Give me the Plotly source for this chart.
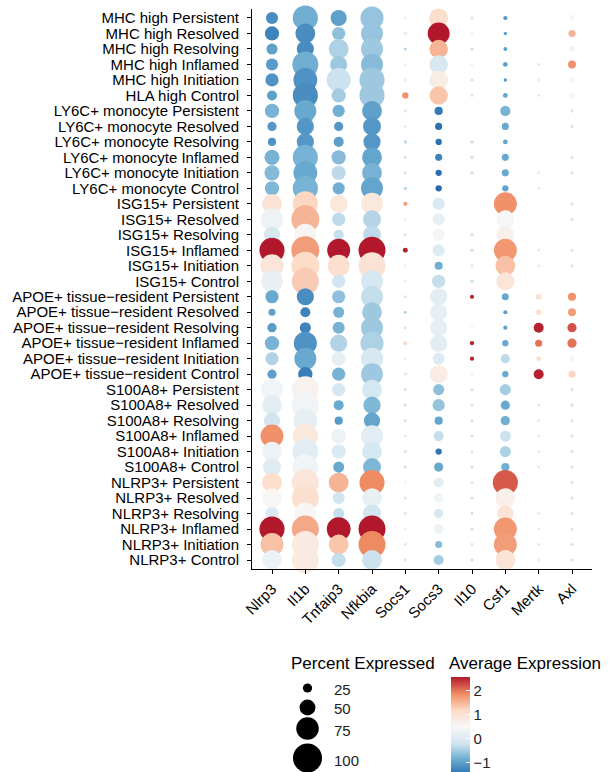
import plotly.graph_objects as go

# ---------------- data ----------------
groups = [
    "MHC high Persistent", "MHC high Resolved", "MHC high Resolving", "MHC high Inflamed",
    "MHC high Initiation", "HLA high Control",
    "LY6C+ monocyte Persistent", "LY6C+ monocyte Resolved", "LY6C+ monocyte Resolving",
    "LY6C+ monocyte Inflamed", "LY6C+ monocyte Initiation", "LY6C+ monocyte Control",
    "ISG15+ Persistent", "ISG15+ Resolved", "ISG15+ Resolving", "ISG15+ Inflamed",
    "ISG15+ Initiation", "ISG15+ Control",
    "APOE+ tissue\u2212resident Persistent", "APOE+ tissue\u2212resident Resolved",
    "APOE+ tissue\u2212resident Resolving", "APOE+ tissue\u2212resident Inflamed",
    "APOE+ tissue\u2212resident Initiation", "APOE+ tissue\u2212resident Control",
    "S100A8+ Persistent", "S100A8+ Resolved", "S100A8+ Resolving", "S100A8+ Inflamed",
    "S100A8+ Initiation", "S100A8+ Control",
    "NLRP3+ Persistent", "NLRP3+ Resolved", "NLRP3+ Resolving", "NLRP3+ Inflamed",
    "NLRP3+ Initiation", "NLRP3+ Control",
]
genes = ["Nlrp3", "Il1b", "Tnfaip3", "Nfkbia", "Socs1", "Socs3", "Il10", "Csf1", "Mertk", "Axl"]

# percent expressed (rows top -> bottom)
nlrp3_pct = [36, 44, 32, 36, 40, 28, 44, 25, 21, 47, 47, 44, 65, 73, 51, 85, 77, 73,
             40, 17, 25, 44, 40, 25, 73, 65, 51, 77, 65, 58, 65, 65, 40, 85, 77, 65]
il1b_pct = [85, 65, 55, 88, 80, 85, 73, 55, 55, 85, 80, 85, 85, 96, 73, 96, 96, 92,
            55, 28, 32, 77, 73, 44, 92, 92, 80, 85, 88, 88, 92, 92, 73, 92, 92, 92]
tnfaip3_pct = [51, 40, 65, 55, 80, 44, 36, 25, 28, 44, 44, 36, 58, 40, 28, 77, 73, 40,
               40, 32, 36, 55, 44, 40, 40, 28, 21, 47, 44, 32, 65, 36, 32, 80, 65, 44]
nfkbia_pct = [77, 73, 73, 73, 85, 85, 65, 58, 55, 65, 65, 73, 73, 58, 58, 92, 92, 73,
              73, 65, 73, 77, 73, 73, 65, 55, 51, 73, 65, 58, 85, 65, 58, 92, 92, 65]
socs1_pct = [2, 6, 2, 2, 3, 14, 2, 1, 2, 2, 2, 2, 6, 2, 2, 9, 1, 1,
             2, 2, 2, 6, 1, 1, 2, 2, 2, 1, 2, 2, 1, 2, 2, 1, 1, 1]
socs3_pct = [62, 73, 60, 60, 62, 60, 21, 17, 14, 17, 14, 14, 36, 36, 36, 36, 21, 40,
             55, 55, 55, 55, 36, 58, 32, 36, 21, 28, 14, 25, 28, 28, 25, 28, 17, 28]
il10_pct = [1, 1, 2, 1, 2, 1, 0, 0, 2, 2, 2, 0, 0, 0, 2, 2, 1, 2,
            6, 0, 1, 6, 6, 1, 1, 1, 1, 1, 1, 1, 1, 1, 1, 1, 1, 1]
csf1_pct = [6, 3, 5, 8, 3, 8, 29, 17, 8, 17, 17, 14, 77, 58, 58, 77, 65, 58,
            17, 6, 6, 14, 25, 14, 32, 25, 25, 32, 32, 21, 85, 65, 51, 77, 77, 65]
mertk_pct = [0, 0, 0, 1, 1, 1, 0, 0, 0, 0, 1, 1, 0, 0, 0, 1, 1, 0,
             12, 10, 28, 17, 9, 28, 0, 1, 1, 1, 1, 1, 0, 0, 1, 1, 1, 1]
axl_pct = [13, 17, 12, 20, 10, 12, 2, 2, 0, 2, 2, 0, 2, 2, 0, 2, 2, 0,
           21, 20, 25, 25, 10, 17, 2, 2, 2, 2, 2, 2, 2, 2, 2, 2, 2, 2]

# average expression (scaled)
nlrp3_avg = [-1.2, -1.3, -1.0, -1.05, -1.15, -1.0, -0.8, -1.1, -1.15, -0.8, -0.72, -0.75,
             0.95, 0.3, -0.1, 2.55, 0.92, 0.2, -0.9, -1.0, -1.05, -0.8, -0.42, -1.0,
             0.35, 0.1, -0.2, 1.8, 0.28, 0.02, 1.1, 0.5, -0.05, 2.55, 1.4, 0.28]
il1b_avg = [-0.85, -1.2, -1.2, -0.85, -1.15, -1.2, -0.9, -1.1, -1.1, -0.8, -0.9, -0.8,
            1.2, 1.5, 0.55, 1.7, 1.15, 1.3, -1.2, -1.3, -1.3, -1.15, -0.9, -1.35,
            0.6, 0.35, 0.15, 0.85, 0.1, 0.35, 0.92, 1.05, 0.5, 1.6, 0.78, 0.78]
tnfaip3_avg = [-1.0, -0.65, -0.45, -0.55, -0.25, -0.5, -0.85, -1.1, -1.0, -0.7, -0.35, -0.85,
               0.85, -0.35, -0.3, 2.55, 1.05, -0.2, -0.65, -0.8, -0.8, -0.42, 0.15, -0.8,
               -0.15, -0.9, -1.05, 0.3, -0.05, -0.9, 1.5, -0.2, -0.3, 2.55, 1.35, -0.3]
nfkbia_avg = [-0.6, -0.6, -0.55, -0.7, -0.55, -0.55, -1.0, -1.1, -1.1, -0.95, -0.8, -0.95,
              0.85, -0.4, -0.35, 2.55, 1.0, -0.15, -0.3, -0.55, -0.55, -0.45, -0.1, -0.55,
              -0.15, -0.75, -0.95, 0.1, -0.15, -0.75, 1.85, 0.2, -0.2, 2.55, 1.85, -0.25]
socs1_avg = [0.3, 0.2, -0.4, 0.3, 0.2, 1.8, -0.1, 0.1, -0.4, -0.1, -0.1, -0.4,
             1.7, 0.2, -0.1, 2.5, 0.2, 0.2, -0.1, -0.4, -0.1, 1.1, 0.2, -0.1,
             -0.2, -0.2, -0.2, -0.1, -0.2, -0.2, 0.3, -0.1, -0.1, 0.3, -0.1, -0.1]
socs3_avg = [1.1, 2.55, 1.5, -0.1, 0.75, 1.35, -1.4, -1.5, -1.5, -1.3, -1.5, -1.55,
             -0.05, 0.15, 0.4, 0.0, -0.85, -0.3, 0.1, 0.15, 0.15, 0.1, 0.0, 0.75,
             -0.65, -0.6, -0.95, -0.3, -1.45, -0.9, 0.1, 0.35, -0.1, 0.3, -0.7, -0.5]
il10_avg = [-0.2, 0.3, -0.3, 0.3, -0.2, -0.2, -0.2, -0.2, -0.3, -0.3, -0.3, -0.2,
            -0.2, -0.2, -0.3, -0.3, -0.1, -0.3, 2.5, -0.2, 0.3, 2.5, 2.5, 0.2,
            -0.3, -0.3, -0.3, -0.3, -0.2, -0.3, -0.2, -0.3, -0.3, -0.3, -0.1, -0.3]
csf1_avg = [-1.1, -1.0, -1.0, -1.0, -1.1, -0.95, -0.8, -0.9, -0.95, -0.9, -0.9, -0.95,
            1.8, 0.45, 0.65, 1.75, 1.4, 0.92, -0.9, -1.0, -1.0, -0.9, -0.35, -0.9,
            -0.5, -0.9, -0.85, -0.25, -0.45, -0.85, 2.15, 0.65, 0.95, 1.75, 1.7, 0.95]
mertk_avg = [0.0, 0.0, 0.0, 0.0, 0.0, 0.0, 0.0, 0.0, 0.0, 0.0, 0.0, 0.0,
             0.0, 0.0, 0.0, 0.0, 0.0, 0.0, 1.05, 1.15, 2.5, 2.0, 1.05, 2.5,
             0.0, 0.0, 0.0, 0.0, 0.0, 0.0, 0.0, 0.0, 0.0, 0.0, 0.0, 0.0]
axl_avg = [0.45, 1.5, 0.35, 1.8, 0.45, 0.45, -0.2, -0.2, -0.2, -0.2, -0.2, -0.2,
           -0.2, -0.2, -0.2, -0.2, -0.2, -0.2, 1.8, 1.7, 2.2, 2.0, 0.5, 1.2,
           -0.2, -0.2, -0.2, -0.2, -0.2, -0.2, -0.2, -0.2, -0.2, -0.2, -0.2, -0.2]

legend_pct = [25, 50, 75, 100]
color_ticks = [-1, 0, 1, 2]

pct_by_gene = [nlrp3_pct, il1b_pct, tnfaip3_pct, nfkbia_pct, socs1_pct,
               socs3_pct, il10_pct, csf1_pct, mertk_pct, axl_pct]
avg_by_gene = [nlrp3_avg, il1b_avg, tnfaip3_avg, nfkbia_avg, socs1_avg,
               socs3_avg, il10_avg, csf1_avg, mertk_avg, axl_avg]

# ---------------- styling ----------------
W, H = 612, 772
FONT = "Liberation Sans, Arial, Helvetica, sans-serif"
RDBU = [[0.0, "#2166AC"], [1/6, "#67A9CF"], [2/6, "#D1E5F0"], [3/6, "#F7F7F7"],
        [4/6, "#FDDBC7"], [5/6, "#EF8A62"], [1.0, "#B2182B"]]
CMIN, CMAX = -1.6, 2.55


def dot_size(p):
    return 0 if p <= 0 else 2.6 + 0.265 * p


xs, ys, ss, cs = [], [], [], []
for g, pl, al in zip(genes, pct_by_gene, avg_by_gene):
    for grp, p, a in zip(groups, pl, al):
        xs.append(g)
        ys.append(grp)
        ss.append(dot_size(p))
        cs.append(a)

# plot area in pixels (from top-left)
PL, PR, PT, PB = 252, 592, 8.7, 569.3

fig = go.Figure()

# size legend (drawn in a pixel-mapped overlay axis)
leg_y = [688, 707.5, 728.5, 758]
fig.add_trace(go.Scatter(
    x=[307.5] * len(legend_pct), y=leg_y, mode="markers",
    marker=dict(size=[dot_size(p) for p in legend_pct], color="#000000",
                opacity=1, line=dict(width=0)),
    xaxis="x2", yaxis="y2", showlegend=False, cliponaxis=False, hoverinfo="skip",
))

fig.add_trace(go.Scatter(
    x=xs, y=ys, mode="markers",
    marker=dict(size=ss, sizemode="diameter", color=cs, colorscale=RDBU,
                cmin=CMIN, cmax=CMAX, line=dict(width=0), opacity=1,
                colorbar=dict(
                    x=451 / W, xanchor="left", xref="paper",
                    y=(H - 677) / H, yanchor="top", yref="paper",
                    lenmode="pixels", len=100, thickness=19, thicknessmode="pixels",
                    tickvals=color_ticks, ticktext=["\u22121", "0", "1", "2"],
                    ticks="inside", tickcolor="white", ticklen=4, tickwidth=1,
                    outlinewidth=0, xpad=0, ypad=0,
                    tickfont=dict(family=FONT, size=15, color="#222"),
                )),
    showlegend=False, cliponaxis=False, hoverinfo="x+y",
))

annotations = []
for p, yy in zip(legend_pct, [689, 708.5, 730, 760]):
    annotations.append(dict(x=332, y=yy, xref="x2", yref="y2", text=str(p),
                            showarrow=False, xanchor="left", yanchor="middle",
                            font=dict(family=FONT, size=15, color="#222")))
annotations.append(dict(x=289, y=663, xref="x2", yref="y2", text="Percent Expressed",
                        showarrow=False, xanchor="left", yanchor="middle",
                        font=dict(family=FONT, size=17, color="black")))
annotations.append(dict(x=447, y=663, xref="x2", yref="y2", text="Average Expression",
                        showarrow=False, xanchor="left", yanchor="middle",
                        font=dict(family=FONT, size=17, color="black")))

fig.update_layout(
    width=W, height=H, autosize=False,
    margin=dict(l=0, r=0, t=0, b=0, pad=0, autoexpand=False),
    paper_bgcolor="white", plot_bgcolor="rgba(0,0,0,0)",
    font=dict(family=FONT, size=15, color="black"),
    xaxis=dict(
        domain=[PL / W, PR / W], type="category", categoryorder="array",
        categoryarray=genes, range=[-0.6, len(genes) - 0.4],
        tickmode="linear", tick0=0, dtick=1,
        showline=True, linecolor="black", linewidth=1, mirror=False,
        ticks="outside", ticklen=4, tickcolor="black", tickwidth=1,
        showgrid=False, zeroline=False, tickangle=-45, automargin=False,
        tickfont=dict(family=FONT, size=15, color="black"), anchor="y",
    ),
    yaxis=dict(
        domain=[(H - PB) / H, (H - PT) / H], type="category", categoryorder="array",
        categoryarray=groups[::-1], range=[-0.6, len(groups) - 0.4],
        tickmode="linear", tick0=0, dtick=1,
        showline=True, linecolor="black", linewidth=1, mirror=False,
        ticks="outside", ticklen=4, tickcolor="black", tickwidth=1,
        showgrid=False, zeroline=False, automargin=False, ticklabelstandoff=5,
        tickfont=dict(family=FONT, size=15, color="black"), anchor="x",
    ),
    xaxis2=dict(domain=[0, 1], range=[0, W], visible=False, anchor="y2"),
    yaxis2=dict(domain=[0, 1], range=[H, 0], visible=False, anchor="x2"),
    annotations=annotations,
)

fig.write_html("out.html")
